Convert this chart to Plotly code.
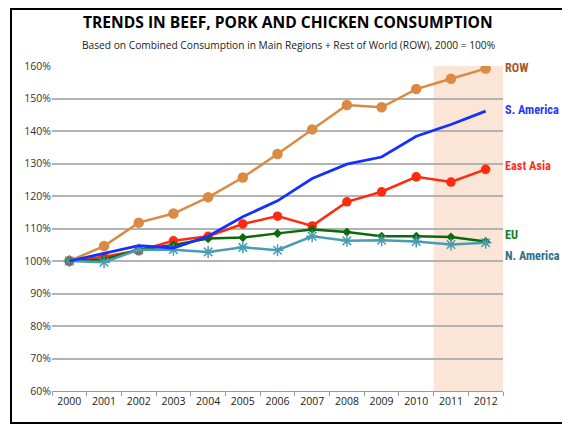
import plotly.graph_objects as go

years = ["2000", "2001", "2002", "2003", "2004", "2005", "2006", "2007", "2008", "2009", "2010", "2011", "2012"]
row = [100, 104.6, 111.8, 114.6, 119.6, 125.7, 132.9, 140.5, 148.0, 147.3, 152.9, 156.1, 159.2]
s_america = [100, 102.4, 104.7, 104.0, 107.6, 113.6, 118.5, 125.4, 129.8, 132.0, 138.4, 142.0, 146.1]
east_asia = [100, 101.3, 103.2, 106.2, 107.6, 111.4, 113.8, 110.8, 118.2, 121.3, 125.9, 124.3, 128.2]
eu = [100, 100.5, 103.5, 104.9, 106.9, 107.2, 108.5, 109.7, 108.9, 107.6, 107.6, 107.4, 106.0]
n_america = [100, 99.6, 103.5, 103.5, 102.8, 104.2, 103.3, 107.6, 106.2, 106.4, 106.0, 105.1, 105.6]
y_ticks = [0.6, 0.7, 0.8, 0.9, 1.0, 1.1, 1.2, 1.3, 1.4, 1.5, 1.6]

def frac(v):
    return [x / 100 for x in v]

# page offset of the figure inside the browser (body margin)
OFF = 8
W, H = 570 - OFF, 426 - OFF
L, R, T, B = 52 - OFF, W - (503 - OFF), 66 - OFF, H - (391 - OFF)
PW, PH = W - L - R, H - T - B

def px(xp):  # page x -> paper
    return (xp - OFF - L) / PW

def py(yp):  # page y -> paper
    return (H - B - (yp - OFF)) / PH

fig = go.Figure()
fig.add_trace(go.Scatter(x=years, y=frac(row), mode="lines+markers", name="ROW",
                         line=dict(color="#DA8A42", width=2.5),
                         marker=dict(symbol="circle", size=10.5, color="#DA8A42")))
fig.add_trace(go.Scatter(x=years, y=frac(east_asia), mode="lines+markers", name="East Asia",
                         line=dict(color="#FF2B0F", width=2.5),
                         marker=dict(symbol="circle", size=9.5, color="#FF2B0F")))
fig.add_trace(go.Scatter(x=years, y=frac(eu), mode="lines+markers", name="EU",
                         line=dict(color="#0B6B0B", width=2.5),
                         marker=dict(symbol="diamond", size=7, color="#0B6B0B")))
fig.add_trace(go.Scatter(x=years, y=frac(n_america), mode="lines+markers", name="N. America",
                         line=dict(color="#4A9CB3", width=2.5),
                         marker=dict(symbol="asterisk-open", size=10,
                                     line=dict(color="#4A9CB3", width=1.5))))
fig.add_trace(go.Scatter(x=years, y=frac(s_america), mode="lines", name="S. America",
                         line=dict(color="#1430FF", width=2.8)))

# shaded forecast region
fig.add_shape(type="rect", xref="x", yref="paper", x0=10.5, x1=12.5, y0=0, y1=1,
              fillcolor="#FBE5D6", line=dict(width=0), layer="between")

# outer frame
fig.add_shape(type="rect", xref="paper", yref="paper",
              x0=px(11), x1=px(567.5), y0=py(423), y1=py(OFF + 1),
              line=dict(color="black", width=2), fillcolor="rgba(0,0,0,0)", layer="above")

labels = [("ROW", 1.594, "#A0582A"), ("S. America", 1.464, "#1F3CF5"),
          ("East Asia", 1.293, "#FF3020"), ("EU", 1.079, "#1B7A1B"),
          ("N. America", 1.015, "#2E6E8A")]
for txt, yv, col in labels:
    fig.add_annotation(x=px(505), xref="paper", y=yv, yref="y", text="<b>" + txt + "</b>",
                       showarrow=False, xanchor="left", yanchor="middle", xshift=-2,
                       font=dict(family="Liberation Sans Narrow, Roboto Condensed, Roboto",
                                 size=12.3, color=col))

fig.add_annotation(x=px(288), xref="paper", y=py(22), yref="paper",
                   text="<b>TRENDS IN BEEF, PORK AND CHICKEN CONSUMPTION</b>", showarrow=False,
                   xanchor="center", yanchor="middle",
                   font=dict(family="Open Sans", size=15.6, color="black"))
fig.add_annotation(x=px(288.5), xref="paper", y=py(45), yref="paper",
                   text="Based on Combined Consumption in Main Regions + Rest of World (ROW), 2000 = 100%",
                   showarrow=False, xanchor="center", yanchor="middle",
                   font=dict(family="Open Sans", size=10.2, color="#222222"))

fig.update_layout(
    width=W, height=H,
    margin=dict(l=L, r=R, t=T, b=B, autoexpand=False),
    paper_bgcolor="white", plot_bgcolor="white",
    showlegend=False,
    font=dict(family="Open Sans", size=11, color="#333333"),
)
fig.update_xaxes(type="category", tickson="boundaries", ticks="outside", ticklen=4,
                 tickcolor="#999999", showline=True, linecolor="#999999", linewidth=1,
                 showgrid=False, range=[-0.5, 12.5], tickangle=0, automargin=False,
                 tickfont=dict(size=10.5, color="#222222"))
fig.update_yaxes(range=[0.6, 1.6], tickvals=y_ticks, tickformat=".0%", showgrid=True,
                 gridcolor="#B3B3B3", gridwidth=1.5, zeroline=False, showline=False,
                 ticks="", automargin=False, tickfont=dict(size=10.5, color="#333333"))

fig.write_html("out.html")
